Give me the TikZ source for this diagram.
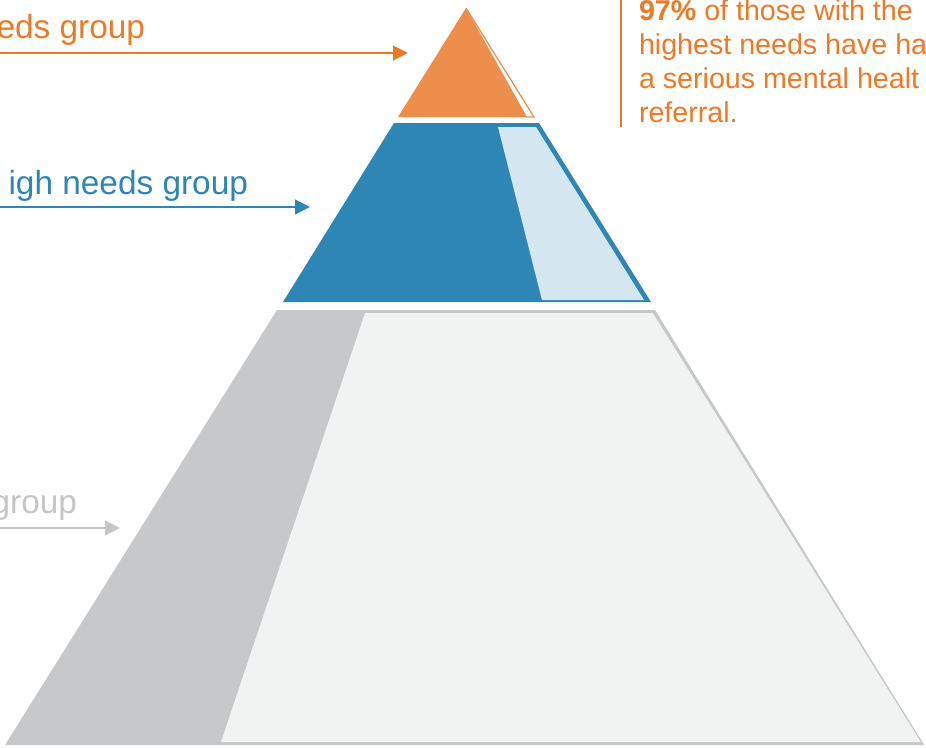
\documentclass[tikz,border=0pt]{standalone}
\usepackage{fontspec}
\setmainfont{Liberation Sans}
\usetikzlibrary{arrows.meta}
\definecolor{tipfill}{HTML}{ED8F4A}
\definecolor{tiptext}{HTML}{EC7A26}
\definecolor{midblue}{HTML}{2D86B3}
\definecolor{midlight}{HTML}{D4E6F0}
\definecolor{basedark}{HTML}{C7C8CA}
\definecolor{baselight}{HTML}{F1F2F2}
\definecolor{basetext}{HTML}{C6C6C6}

\begin{document}
\begin{tikzpicture}[x=0.02cm,y=-0.02cm,
  every node/.style={inner sep=0pt,outer sep=0pt},
  grouplabel/.style={anchor=base east,font=\fontsize{19}{22}\selectfont},
  pointer/.style={line width=1.6pt,-{Triangle[length=0.3cm,width=0.29cm]}}]
\useasboundingbox (0,0) rectangle (926,747);
% base of the pyramid
\fill[basedark] (277,310) -- (655,310) -- (924,745) -- (5,745) -- cycle;
\fill[baselight] (365,313) -- (653,313) -- (921,742) -- (221,742) -- cycle;
\draw[basedark,line width=0.6pt] (653,312) -- (923,744);
% middle band
\fill[midblue] (394,123) -- (539,123) -- (651,302) -- (283,302) -- cycle;
\fill[midlight] (498,127) -- (536,127) -- (644,300) -- (542,300) -- cycle;
% tip
\fill[tipfill] (466,8) -- (527,117) -- (398,117) -- cycle;
\draw[tipfill,line width=0.7pt] (466,8) -- (534,117) -- (526,117);
% labels and arrows
\path (145,38) node[grouplabel,text=tiptext] (tiplbl) {eds group}
  (248,194) node[grouplabel,text=midblue] (midlbl) {igh needs group}
  (77,513) node[grouplabel,text=basetext] (baselbl) {group};
\path (0,53) coordinate (tipa) (408,53) coordinate (tipb)
  (0,207) coordinate (mida) (310,207) coordinate (midb)
  (0,528) coordinate (basea) (120,528) coordinate (baseb);
\draw[pointer,tiptext] (tipa) -- (tipb);
\draw[pointer,midblue] (mida) -- (midb);
\draw[pointer,basetext] (basea) -- (baseb);
% note
\draw[tiptext,line width=1.1pt] (621,0) coordinate (bara) -- (621,127) coordinate (barb);
\node[anchor=base west,align=left,text=tiptext,font=\fontsize{16.3}{19.3}\selectfont] (note) at (639,122)
  {\textbf{97\%} of those with the\\highest needs have ha\\a serious mental healt\\referral.};
\end{tikzpicture}
\end{document}
